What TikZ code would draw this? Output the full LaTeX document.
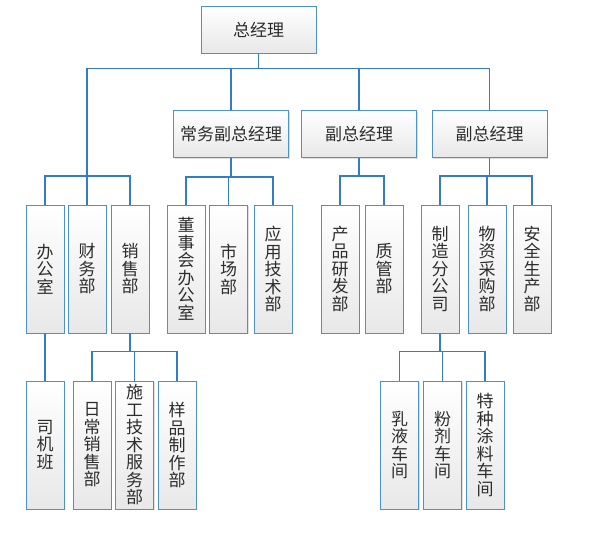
\documentclass[tikz,border=0pt]{standalone}
\usepackage{fontspec}
\newfontfamily\cjk{Noto Sans CJK SC}
\usetikzlibrary{shadows}
\definecolor{boxblue}{RGB}{74,144,210}
\definecolor{linkblue}{RGB}{50,125,198}
\definecolor{txtgray}{RGB}{45,45,45}
\tikzset{
  hbox/.style={draw=boxblue, line width=0.9pt, top color=white, bottom color=black!9,
    drop shadow={shadow xshift=1.2pt, shadow yshift=-1.2pt, opacity=0.25},
    minimum width=115pt, minimum height=47pt, inner sep=0pt, text=txtgray,
    font=\cjk\fontsize{17pt}{17.5pt}\selectfont},
  vbox/.style={hbox, minimum width=38pt, minimum height=128pt, align=center},
  link/.style={draw=linkblue, line width=1.4pt}
}
\begin{document}
\begin{tikzpicture}[x=1pt,y=-1pt]
    \useasboundingbox (0,0) rectangle (593,534);
    % top
    \node[hbox] (zjl) at (258.5,29.5) {总经理};
    \node[hbox] (cwfz) at (231,134) {常务副总经理};
    \node[hbox] (fz1) at (359,134) {副总经理};
    \node[hbox] (fz2) at (489.5,134) {副总经理};
    % third row
    \node[vbox] (bgs) at (45,269) {办\\公\\室};
    \node[vbox] (cwb) at (87,269) {财\\务\\部};
    \node[vbox] (xsb) at (130,269) {销\\售\\部};
    \node[vbox] (dsh) at (186,269) {董\\事\\会\\办\\公\\室};
    \node[vbox] (scb) at (228.5,269) {市\\场\\部};
    \node[vbox] (yyjs) at (273,269) {应\\用\\技\\术\\部};
    \node[vbox] (cpyf) at (340,269) {产\\品\\研\\发\\部};
    \node[vbox] (zgb) at (384,269) {质\\管\\部};
    \node[vbox] (zzfgs) at (440,269) {制\\造\\分\\公\\司};
    \node[vbox] (wzcg) at (487,269) {物\\资\\采\\购\\部};
    \node[vbox] (aqsc) at (532,269) {安\\全\\生\\产\\部};
    % bottom row
    \node[vbox] (sjb) at (45,445) {司\\机\\班};
    \node[vbox] (rcxs) at (92,445) {日\\常\\销\\售\\部};
    \node[vbox] (sgjs) at (134.5,445) {施\\工\\技\\术\\服\\务\\部};
    \node[vbox] (ypzz) at (177,445) {样\\品\\制\\作\\部};
    \node[vbox] (ryc) at (399.5,445) {乳\\液\\车\\间};
    \node[vbox] (fjc) at (442.5,445) {粉\\剂\\车\\间};
    \node[vbox] (tzc) at (485,445) {特\\种\\涂\\料\\车\\间};
    \coordinate (lbus) at (87,176);
    % connectors
    \foreach \c in {cwb,cwfz,fz1,fz2}
      \draw[link] (zjl.south) -- ++(0,15) -| (\c.north);
    \draw[link] (lbus) -| (bgs.north);
    \draw[link] (lbus) -| (xsb.north);
    \foreach \c in {dsh,scb,yyjs}
      \draw[link] (cwfz.south) -- ++(0,19) -| (\c.north);
    \foreach \c in {cpyf,zgb}
      \draw[link] (fz1.south) -- ++(0,18) -| (\c.north);
    \foreach \c in {zzfgs,wzcg,aqsc}
      \draw[link] (fz2.south) -- ++(0,18) -| (\c.north);
    \draw[link] (bgs.south) -- (sjb.north);
    \foreach \c in {rcxs,sgjs,ypzz}
      \draw[link] (xsb.south) -- ++(0,18) -| (\c.north);
    \foreach \c in {ryc,fjc,tzc}
      \draw[link] (zzfgs.south) -- ++(0,18) -| (\c.north);
\end{tikzpicture}
\end{document}
